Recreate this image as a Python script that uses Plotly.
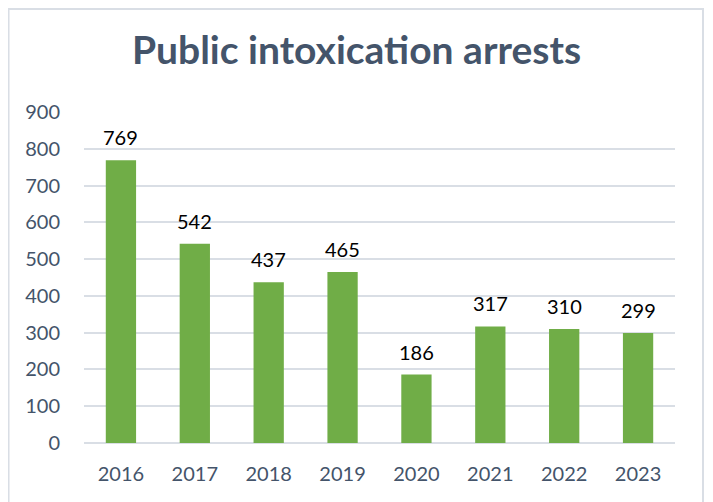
import plotly.graph_objects as go

years = ["2016", "2017", "2018", "2019", "2020", "2021", "2022", "2023"]
arrests = [769, 542, 437, 465, 186, 317, 310, 299]
y_ticks = [0, 100, 200, 300, 400, 500, 600, 700, 800, 900]

FONT = "Lato"
SLATE = "#44546A"
GREEN = "#70AD47"
GRID = "#D9DEE5"

fig = go.Figure()
fig.add_trace(
    go.Bar(
        x=years,
        y=arrests,
        marker={"color": GREEN, "line": {"width": 0}},
        hoverinfo="x+y",
    )
)

# value labels above each bar, lifted a little like the Excel original
# (category axis: annotation x is the category index)
for i, value in enumerate(arrests):
    fig.add_annotation(
        x=i,
        y=value,
        text=str(value),
        showarrow=False,
        yanchor="bottom",
        yshift=9,
        font={"family": FONT, "size": 20, "color": "#000000"},
    )

# the page puts the plot 8px in from the top-left, margins allow for that
fig.update_layout(
    width=713,
    height=502,
    margin={"l": 76, "r": 46, "t": 104, "b": 67},
    paper_bgcolor="white",
    plot_bgcolor="white",
    showlegend=False,
    bargap=0.59,
    title={
        "text": "<b>Public intoxication arrests</b>",
        "x": 0.4888,
        "xanchor": "center",
        "y": 0.916,
        "yanchor": "middle",
        "font": {"family": FONT, "size": 39, "color": SLATE},
    },
    xaxis={
        "type": "category",
        "categoryorder": "array",
        "categoryarray": years,
        "range": [-0.5, len(years) - 0.5],
        "showgrid": False,
        "showline": False,
        "ticks": "",
        "tickfont": {"family": FONT, "size": 20, "color": SLATE},
        "ticklabelstandoff": 17,
    },
    yaxis={
        "range": [0, 900],
        "tickvals": y_ticks,
        "showgrid": True,
        "gridcolor": GRID,
        "gridwidth": 1.5,
        "zeroline": True,
        "zerolinecolor": GRID,
        "zerolinewidth": 1.5,
        "showline": False,
        "ticks": "",
        "tickfont": {"family": FONT, "size": 20, "color": SLATE},
        "ticklabelstandoff": 23,
    },
    shapes=[
        {
            "type": "rect",
            "xref": "paper",
            "yref": "paper",
            "x0": -0.1277,
            "x1": 1.0474,
            "y0": -0.3,
            "y1": 1.311,
            "line": {"color": GRID, "width": 2},
            "layer": "below",
        }
    ],
)

fig.write_html("out.html")
